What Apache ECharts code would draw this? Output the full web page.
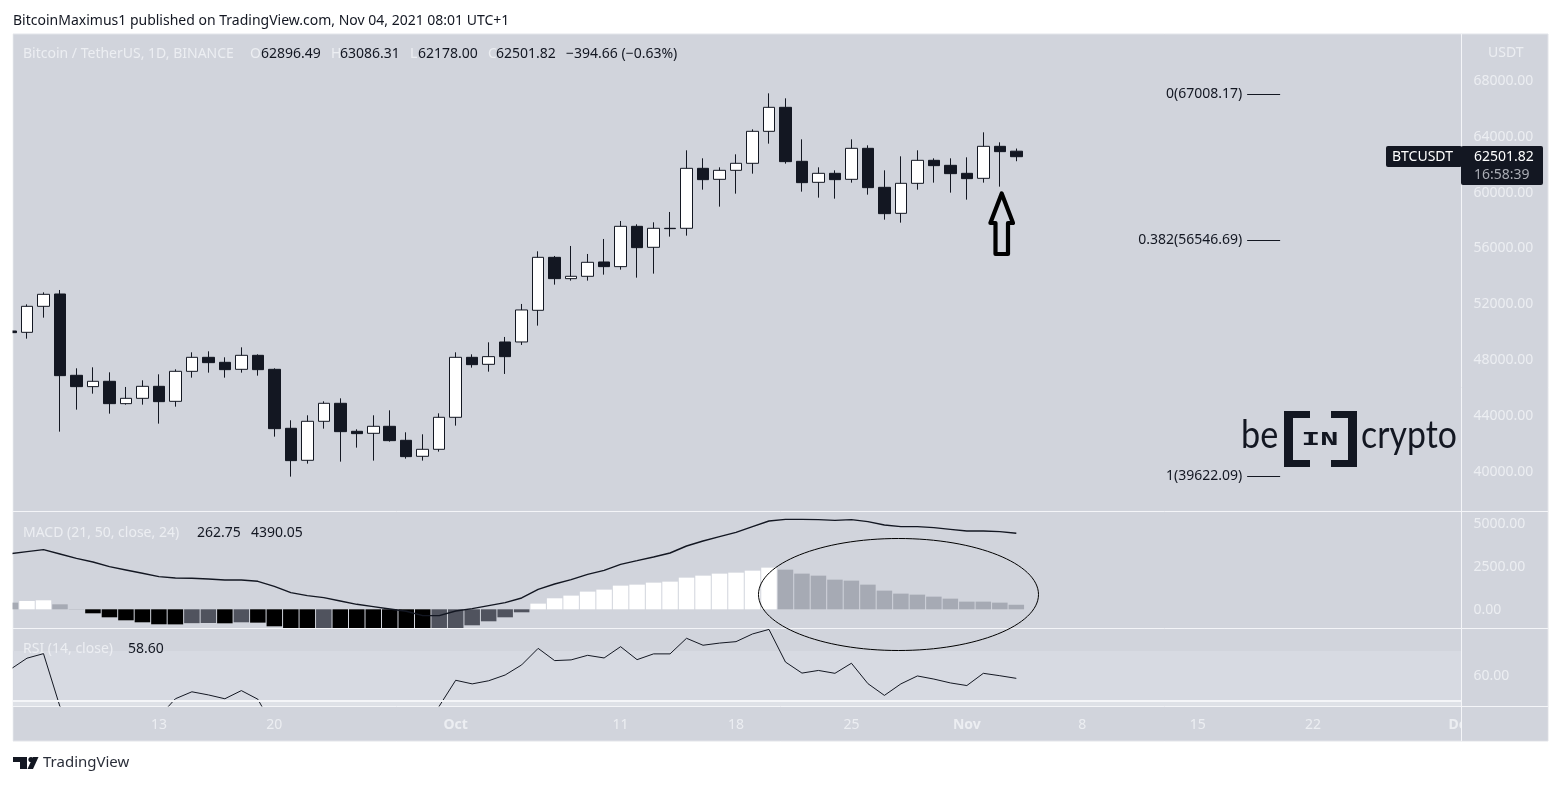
<!DOCTYPE html>
<html lang="en">
    <head>
        <meta charset="utf-8">
        <title>BTCUSDT 1D</title>
        <script src="https://cdn.jsdelivr.net/npm/echarts@6/dist/echarts.min.js"></script>
        <style>
            html, body { margin: 0; padding: 0; background: #fff; }
            #chart { width: 1561px; height: 785px; }
        </style>
    </head>
    <body>
        <div id="chart"></div>
        <script>
            // daily candles, 4 Sep to 4 Nov 2021
            var opens = [50009,49914,51777,52661,46832,46020,46402,44801,45183,46043,
                44968,47118,48122,47763,47262,48265,47262,43033,40740,43535,
                44825,42818,42675,43177,42173,41027,41528,43822,48122,47620,
                49221,49223,51492,55290,53762,53929,54956,54622,57512,56007,
                57369,57369,61669,60881,61526,62028,64321,66041,62171,60666,
                61311,60881,63103,60307,58444,60594,62242,61884,61311,60952,
                63246,62896.49];
            var closes = [49890,51777,52637,46808,46020,46402,44801,45183,46043,44944,
                47118,48122,47740,47238,48265,47238,43009,40716,43535,44825,
                42794,42651,43177,42149,41003,41528,43822,48122,47596,48170,
                48170,51516,55290,53762,53929,54932,54622,57512,55983,57369,
                57345,61669,60857,61526,62028,64321,66041,62147,60642,61311,
                60857,63103,60284,58420,60594,62242,61860,61287,60929,63246,
                62864,62501.82];
            var lows = [49722,49460,50965,42794,44371,45518,44084,44729,44729,43368,
                44586,46665,47023,46665,47023,46808,42436,39569,40501,43009,
                40644,41648,40716,42078,40859,40716,41361,43225,47381,47094,
                46930,49008,50393,53331,53618,53618,54048,54406,53833,54120,
                56772,56843,60140,58922,59853,61287,63437,62004,59997,59567,
                59495,60642,59782,57990,57775,60140,60642,59925,59424,60642,
                60355,62178];
            var highs = [50129,51920,52780,52948,47333,47405,47047,45996,46473,46903,
                47262,48480,48552,48122,48838,48337,47333,43607,43965,44968,
                45183,42962,43965,44323,42747,42603,44108,48480,48337,49197,
                49581,51946,55720,55386,56103,55529,56604,57894,57656,57799,
                58540,62959,62386,61741,62672,64464,67044,66686,63748,61741,
                61526,63748,63318,61526,62529,62959,62386,62386,62458,64249,
                63533,63086.31];

            // MACD(21, 50, close, 24), values
            var macdLine = [3211,3327,3442,3192,2942,2731,2461,2269,2077,1885,
                1808,1788,1750,1692,1692,1615,1327,961,788,673,
                481,288,154,19,-115,-365,-365,-96,38,212,
                385,654,1154,1461,1711,2019,2250,2596,2807,3019,
                3250,3654,3942,4192,4442,4769,5096,5192,5192,5173,
                5134,5173,5058,4865,4769,4769,4711,4615,4519,4519,
                4480,4390.05];
            var macdHist = [385,481,519,288,19,-231,-462,-635,-750,-865,
                -870,-800,-790,-808,-750,-770,-981,-1150,-1180,-1170,
                -1180,-1200,-1220,-1240,-1260,-1280,-1250,-1150,-923,-692,
                -462,-173,327,635,789,1020,1135,1365,1423,1538,
                1596,1827,1942,2058,2115,2230,2404,2288,2058,1942,
                1711,1654,1423,1077,904,846,731,615,442,442,
                385,262.75];

            // RSI(14), the low stretches run below the visible pane
            var rsiLine = [62.4,67,68.9,46.8,42,43,41,40,42,42.6,
                50.1,53,51.7,50.1,53.5,49.9,37.6,30,33,36,
                34,35,34,32,33,35,47,57.8,56.3,57.6,
                60,64.2,71.1,66,66.3,68.2,67.1,71.8,66.4,68.8,
                68.8,75.3,72.4,73.3,73.9,77.1,79,65.4,60.8,61.9,
                60.7,64.9,56.4,51.5,56.3,59.6,58.3,56.7,55.6,60.7,
                59.7,58.6];

            var priceTicks = [68000,64000,60000,56000,52000,48000,44000,40000];
            var macdTicks = [5000,2500,0];
            var rsiTicks = [60];
            var timeTicks = ['2021-09-13','2021-09-20','2021-10-01','2021-10-11','2021-10-18','2021-10-25','2021-11-01','2021-11-08','2021-11-15','2021-11-22','2021-12-01'];
            var timeTickLabels = ['13','20','Oct','11','18','25','Nov','8','15','22','Dec'];
            var fibNames = ['0(67008.17)','0.382(56546.69)','1(39622.09)'];
            var fibPrices = [67008.17,56546.69,39622.09];
            var fibFrom = '2021-11-18';
            var fibTo = '2021-11-20';

            var DAY = 86400000;
            var START = Date.UTC(2021, 8, 4);
            var dates = opens.map(function(v, i) { return START + i * DAY; });
            var INK = '#131722';
            var PALE = '#eceef2';
            var FONT = '"Noto Sans", sans-serif';

            function ms(s) { return Date.parse(s + 'T00:00:00Z'); }
            function pairs(vals) {
                return vals.map(function(v, i) { return [dates[i], v]; });
            }
            function histColor(params) {
                var i = params.dataIndex, v = macdHist[i], prev = i > 0 ? macdHist[i - 1] : Infinity;
                if (v >= 0) return v > prev ? '#ffffff' : '#a6aab4';
                return v < prev ? '#000000' : '#50535e';
            }
            function txt(x, y, text, fill) {
                return {
                    type: 'text', z: 100, silent: true,
                    style: { x: x, y: y + 2, text: text, fill: fill, font: '14px ' + FONT, verticalAlign: 'middle', align: 'left' }
                };
            }
            // logo lettering, squeezed or stretched sideways
            function logoTxt(x, y, text, font, sx) {
                return {
                    type: 'text', z: 100, silent: true, x: x, y: y, scaleX: sx,
                    style: { x: 0, y: 0, text: text, fill: INK, font: font, verticalAlign: 'middle', align: 'left' }
                };
            }
            function sep(x1, y1, x2, y2) {
                return { type: 'line', z: 1, silent: true, shape: { x1: x1, y1: y1, x2: x2, y2: y2 }, style: { stroke: '#f4f5f8', lineWidth: 1 } };
            }
            function poly(points, fill) {
                return { type: 'polygon', z: 100, silent: true, shape: { points: points }, style: { fill: fill } };
            }

            var xMin = START + 0.151 * DAY;
            var xMax = START + 88 * DAY;
            function xAxis(idx, showLabel) {
                return {
                    type: 'value', gridIndex: idx, min: xMin, max: xMax,
                    axisLine: { show: false }, axisTick: { show: false }, splitLine: { show: false },
                    axisPointer: { show: false },
                    axisLabel: {
                        show: showLabel, margin: 12, hideOverlap: false, showMaxLabel: true,
                        customValues: timeTicks.map(ms),
                        formatter: function(v) {
                            var i = timeTicks.map(ms).indexOf(+v);
                            var label = timeTickLabels[i];
                            return isNaN(+label) ? '{b|' + label + '}' : '{n|' + label + '}';
                        },
                        rich: {
                            b: { color: PALE, fontFamily: FONT, fontSize: 14, fontWeight: 'bold' },
                            n: { color: PALE, fontFamily: FONT, fontSize: 14 }
                        }
                    }
                };
            }
            function yAxis(idx, min, max, ticks) {
                return {
                    type: 'value', gridIndex: idx, position: 'right', min: min, max: max, scale: true,
                    axisLine: { show: false }, axisTick: { show: false }, splitLine: { show: false },
                    axisLabel: {
                        margin: 12, customValues: ticks,
                        formatter: function(v) { return '{a|' + Number(v).toFixed(2) + '}'; },
                        rich: { a: { color: PALE, fontFamily: FONT, fontSize: 14, padding: [2, 0, 0, 0] } }
                    }
                };
            }

            var option = {
                animation: false,
                backgroundColor: '#ffffff',
                grid: [
                    { left: 13, right: 99.5, top: 34, height: 477 },
                    { left: 13, right: 99.5, top: 512, height: 116 },
                    { left: 13, right: 99.5, top: 629, height: 77 }
                ],
                xAxis: [xAxis(0, false), xAxis(1, false), xAxis(2, true)],
                yAxis: [
                    yAxis(0, 37106, 71297, priceTicks),
                    yAxis(1, -1079, 5615, macdTicks),
                    yAxis(2, 47.08, 79.17, rsiTicks)
                ],
                series: [
                    {
                        type: 'candlestick', xAxisIndex: 0, yAxisIndex: 0, barWidth: 12,
                        data: dates.map(function(d, i) { return [d, opens[i], closes[i], lows[i], highs[i]]; }),
                        itemStyle: { color: '#ffffff', color0: INK, borderColor: INK, borderColor0: INK, borderWidth: 1 },
                        markLine: {
                            silent: true, symbol: 'none', animation: false,
                            lineStyle: { color: INK, width: 1, type: 'solid' },
                            label: {
                                position: 'start', distance: 5, color: INK, fontFamily: FONT, fontSize: 14,
                                formatter: function(p) { return p.name; }
                            },
                            data: fibPrices.map(function(p, i) {
                                return [{ name: fibNames[i], coord: [ms(fibFrom), p] }, { coord: [ms(fibTo), p] }];
                            })
                        }
                    },
                    {
                        type: 'bar', xAxisIndex: 1, yAxisIndex: 1, barWidth: 15.5,
                        data: pairs(macdHist),
                        itemStyle: { color: histColor }
                    },
                    {
                        type: 'line', xAxisIndex: 1, yAxisIndex: 1, showSymbol: false,
                        data: pairs(macdLine),
                        lineStyle: { color: INK, width: 1.4 }
                    },
                    {
                        type: 'line', xAxisIndex: 2, yAxisIndex: 2, showSymbol: false,
                        data: pairs(rsiLine),
                        lineStyle: { color: INK, width: 1 },
                        markArea: {
                            silent: true,
                            data: [
                                [{ yAxis: 70, itemStyle: { color: '#d7dae2' } }, { yAxis: 49.4 }],
                                [{ yAxis: 49.4, itemStyle: { color: '#dee1e7' } }, { yAxis: 47.08 }]
                            ]
                        },
                        markLine: {
                            silent: true, symbol: 'none', label: { show: false },
                            lineStyle: { color: '#f4f5f8', width: 2, type: 'solid' },
                            data: [{ yAxis: 49.4 }]
                        }
                    }
                ],
                graphic: [
                    // panel and pane separators
                    { type: 'rect', z: -10, silent: true, shape: { x: 13, y: 34, width: 1535, height: 707 }, style: { fill: '#d1d4dc', stroke: '#e3e5ea', lineWidth: 1 } },
                    sep(13, 511.5, 1548, 511.5),
                    sep(13, 628.5, 1548, 628.5),
                    sep(13, 706.5, 1548, 706.5),
                    // the Dec label runs under the price scale
                    { type: 'rect', z: 90, silent: true, shape: { x: 1462, y: 707, width: 85.5, height: 33.5 }, style: { fill: '#d1d4dc' } },
                    { type: 'rect', z: 90, silent: true, shape: { x: 0, y: 34, width: 12.5, height: 707 }, style: { fill: '#ffffff' } },
                    { type: 'line', z: 91, silent: true, shape: { x1: 1461.5, y1: 34, x2: 1461.5, y2: 741 }, style: { stroke: '#f4f5f8', lineWidth: 1 } },

                    // header and legends
                    txt(13, 19, 'BitcoinMaximus1 published on TradingView.com, Nov 04, 2021 08:01 UTC+1', INK),
                    txt(23, 52, 'Bitcoin / TetherUS, 1D, BINANCE', PALE),
                    txt(250, 52, 'O', PALE), txt(261, 52, '62896.49', INK),
                    txt(331, 52, 'H', PALE), txt(340, 52, '63086.31', INK),
                    txt(410, 52, 'L', PALE), txt(418, 52, '62178.00', INK),
                    txt(488, 52, 'C', PALE), txt(496, 52, '62501.82', INK),
                    txt(566, 52, '\u2212394.66 (\u22120.63%)', INK),
                    txt(23, 531, 'MACD (21, 50, close, 24)', PALE),
                    txt(197, 531, '262.75', INK), txt(251, 531, '4390.05', INK),
                    txt(23, 647, 'RSI (14, close)', PALE),
                    txt(128, 647, '58.60', INK),
                    txt(1488, 51, 'USDT', PALE),

                    // last price tag
                    { type: 'rect', z: 95, silent: true, shape: { x: 1386, y: 146, width: 76, height: 21, r: 2 }, style: { fill: INK } },
                    { type: 'rect', z: 95, silent: true, shape: { x: 1461, y: 146, width: 82, height: 39, r: 2 }, style: { fill: INK } },
                    txt(1392, 155, 'BTCUSDT', '#ffffff'),
                    txt(1474, 155, '62501.82', '#ffffff'),
                    txt(1474, 173, '16:58:39', '#a9acb4'),

                    // hand drawn arrow and ellipse
                    { type: 'polygon', z: 80, silent: true, shape: { points: [[1001.7, 193.5], [1013, 223], [1008, 223], [1008, 254], [995.5, 254], [995.5, 223], [990.4, 223]] }, style: { fill: 'none', stroke: '#000000', lineWidth: 4.2, lineJoin: 'round' } },
                    { type: 'ellipse', z: 80, silent: true, shape: { cx: 898.5, cy: 594.5, rx: 140, ry: 56 }, style: { fill: 'none', stroke: '#000000', lineWidth: 1 } },

                    // beincrypto mark
                    logoTxt(1241, 436, 'be', '38px Lato, sans-serif', 0.9),
                    logoTxt(1361, 436, 'crypto', '38px Lato, sans-serif', 0.89),
                    poly([[1284, 411], [1310, 411], [1310, 418], [1293, 418], [1293, 460], [1310, 460], [1310, 467], [1284, 467]], INK),
                    poly([[1331, 411], [1357, 411], [1357, 467], [1331, 467], [1331, 460], [1348, 460], [1348, 418], [1331, 418]], INK),
                    logoTxt(1301.5, 439.5, 'IN', 'bold 20px "Liberation Mono", monospace', 1.55),

                    // TradingView footer
                    poly([[13, 757], [27, 757], [27, 769], [20, 769], [20, 762], [13, 762]], INK),
                    { type: 'circle', z: 100, silent: true, shape: { cx: 31, cy: 759.5, r: 2.6 }, style: { fill: INK } },
                    poly([[33, 757], [38.5, 757], [33, 769], [27.5, 769]], INK),
                    {
                        type: 'text', z: 100, silent: true,
                        style: { x: 43, y: 763, text: 'TradingView', fill: '#2a2e39', font: '15px ' + FONT, verticalAlign: 'middle' }
                    }
                ]
            };

            var myChart = echarts.init(document.getElementById('chart'));
            myChart.setOption(option);
        </script>
    </body>
</html>
